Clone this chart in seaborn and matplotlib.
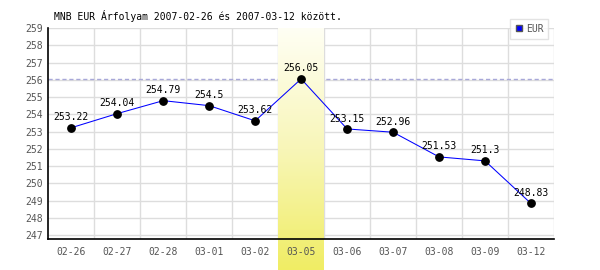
import numpy as np
import pandas as pd
import matplotlib
matplotlib.use("Agg")
import matplotlib.pyplot as plt
import seaborn as sns
from matplotlib.colors import LinearSegmentedColormap
from matplotlib.lines import Line2D

dates = ["02-26", "02-27", "02-28", "03-01", "03-02", "03-05",
         "03-06", "03-07", "03-08", "03-09", "03-12"]
values = [253.22, 254.04, 254.79, 254.5, 253.62, 256.05,
          253.15, 252.96, 251.53, 251.3, 248.83]
yticks = list(range(247, 260))
title = "MNB EUR Árfolyam 2007-02-26 és 2007-03-12 között."
series_name = "EUR"
highlight = "03-05"

sns.set_style("white")
plt.rcParams['font.family'] = ['DejaVu Sans Mono', 'DejaVu Sans']

df = pd.DataFrame({"date": dates, "value": values, "x": np.arange(len(dates))})

fig = plt.figure(figsize=(6, 2.7), dpi=100)
ax = fig.add_axes([48.3/600, 1-238.7/270, (554-48.3)/600, (238.7-28)/270])

ylo, yhi = 246.79, 259
ax.set_xlim(-0.5, len(dates)-0.5)
ax.set_ylim(ylo, yhi)

# grid (drawn manually below the band)
for yv in yticks:
    ax.axhline(yv, color='#dddddd', lw=1, zorder=1)
for xv in np.arange(len(dates)) + 0.5:
    ax.axvline(xv, color='#dddddd', lw=1, zorder=1)

# highlight band with gradient extending to the figure bottom
hi = dates.index(highlight)
fig_bottom_data = ax.transData.inverted().transform(fig.transFigure.transform((0, 0)))[1]
cmap = LinearSegmentedColormap.from_list("band", ["#fffff4", "#f8f6b8", "#f0ed64"])
grad = np.linspace(0, 1, 256).reshape(-1, 1)
ax.imshow(grad, cmap=cmap, aspect='auto', origin='upper',
          extent=(hi-0.5, hi+0.5, fig_bottom_data, yhi), zorder=1.5, clip_on=False)
ax.set_xlim(-0.5, len(dates)-0.5)
ax.set_ylim(ylo, yhi)

# max dashed line
ax.axhline(max(values), color='#a8a8d8', lw=1, ls=(0, (3, 2)), zorder=1.2)

sns.lineplot(data=df, x="x", y="value", ax=ax, color='#0000ff', lw=0.75, zorder=3, legend=False)
ax.scatter(df["x"], df["value"], s=28, color='black', zorder=4)

for xi, v in zip(df["x"], values):
    ax.annotate(f"{v:g}", (xi, v), xytext=(0, 7.5), textcoords='offset points',
                ha='center', va='center', fontsize=7, color='black', zorder=5)

ax.set_xticks(np.arange(len(dates)))
ax.set_xticklabels(dates)
ax.set_yticks(yticks)
ax.grid(False)
ax.tick_params(axis='both', which='both', length=0, labelsize=7, labelcolor='#555555')
ax.tick_params(axis='x', pad=6)
ax.tick_params(axis='y', pad=4)
ax.set_xlabel("")
ax.set_ylabel("")
ax.set_axisbelow(False)
ax.xaxis.set_zorder(6)
ax.yaxis.set_zorder(6)

for s in ['top', 'right']:
    ax.spines[s].set_visible(False)
for s in ['left', 'bottom']:
    ax.spines[s].set_color('black')
    ax.spines[s].set_linewidth(1.2)
    ax.spines[s].set_zorder(6)

fig.text(54/600, 1-16/270, title, fontsize=7, color='black', ha='left', va='center')

handle = Line2D([], [], marker='s', ls='none', markerfacecolor='#0000ff',
                markeredgecolor='#555555', markersize=5)
leg = fig.legend([handle], [series_name], loc='upper right',
                 bbox_to_anchor=(553/600, 1-14/270), frameon=True, fancybox=False,
                 fontsize=7, handlelength=0.8, handletextpad=0.3, borderpad=0.5,
                 labelcolor='#555555')
leg.get_frame().set_edgecolor('#dddddd')
leg.get_frame().set_linewidth(1)

fig.savefig("out.png", dpi=100)
